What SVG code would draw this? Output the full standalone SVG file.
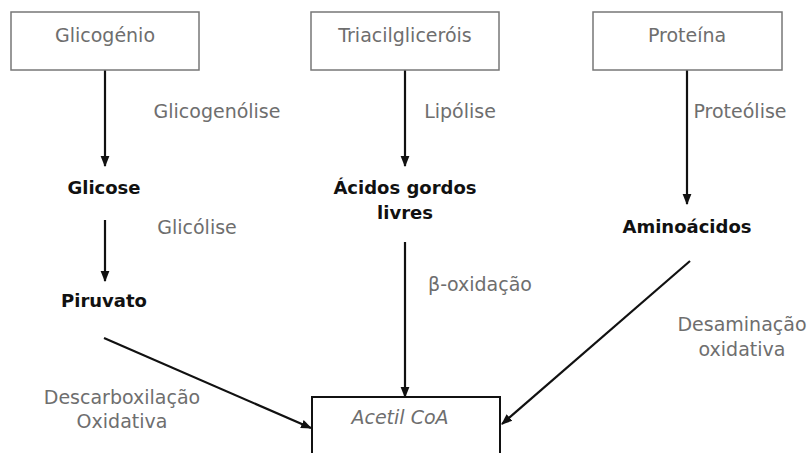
<svg xmlns="http://www.w3.org/2000/svg" width="810" height="453" viewBox="0 0 810 453">
<defs>
<style>
.box{fill:#fff;stroke:#777;stroke-width:1.5}
.t{font-family:"DejaVu Sans",sans-serif;font-size:19px;fill:#6e6e6e;text-anchor:middle}
.b{font-family:"DejaVu Sans",sans-serif;font-size:18px;font-weight:bold;fill:#111;text-anchor:middle}
.ln{stroke:#111;stroke-width:2.2;fill:none}
</style>
<marker id="ah" viewBox="0 0 10 10" refX="9" refY="5" markerWidth="5" markerHeight="5" orient="auto" markerUnits="strokeWidth">
<path d="M0,1 L10,5 L0,9 z" fill="#111"/>
</marker>
</defs>
<rect width="810" height="453" fill="#fff"/>
<g id="connectors">
<line class="ln" x1="105" y1="70" x2="105" y2="166" marker-end="url(#ah)"/>
<line class="ln" x1="105" y1="220" x2="105" y2="281" marker-end="url(#ah)"/>
<line class="ln" x1="405" y1="70" x2="405" y2="166" marker-end="url(#ah)"/>
<line class="ln" x1="405" y1="242" x2="405" y2="397" marker-end="url(#ah)"/>
<line class="ln" x1="687" y1="70" x2="687" y2="204" marker-end="url(#ah)"/>
<line class="ln" x1="104" y1="338" x2="311" y2="428" marker-end="url(#ah)"/>
<line class="ln" x1="690" y1="261" x2="502" y2="424" marker-end="url(#ah)"/>
</g>
<g id="glicogenio"><rect class="box" x="11" y="12" width="188" height="58"/><text class="t" x="105" y="42">Glicogénio</text></g>
<g id="triacilglicerois"><rect class="box" x="311" y="12" width="188" height="58"/><text class="t" x="405" y="42">Triacilgliceróis</text></g>
<g id="proteina"><rect class="box" x="593" y="12" width="189" height="58"/><text class="t" x="687" y="42">Proteína</text></g>
<g id="glicose"><text class="b" x="104" y="194">Glicose</text></g>
<g id="piruvato"><text class="b" x="104" y="307">Piruvato</text></g>
<g id="acidos"><text class="b" x="405" y="194">Ácidos gordos</text><text class="b" x="405" y="219">livres</text></g>
<g id="aminoacidos"><text class="b" x="687" y="233">Aminoácidos</text></g>
<g id="acetilcoa"><rect x="312" y="397" width="188" height="70" fill="#fff" stroke="#111" stroke-width="2"/><text class="t" x="400" y="424" font-style="italic">Acetil CoA</text></g>
<g id="labels">
<text class="t" x="217" y="118">Glicogenólise</text>
<text class="t" x="197" y="234">Glicólise</text>
<text class="t" x="460" y="118">Lipólise</text>
<text class="t" x="740" y="118">Proteólise</text>
<text class="t" x="480" y="291">β-oxidação</text>
<text class="t" x="122" y="404">Descarboxilação</text>
<text class="t" x="122" y="428">Oxidativa</text>
<text class="t" x="742" y="331">Desaminação</text>
<text class="t" x="742" y="356">oxidativa</text>
</g>
</svg>
